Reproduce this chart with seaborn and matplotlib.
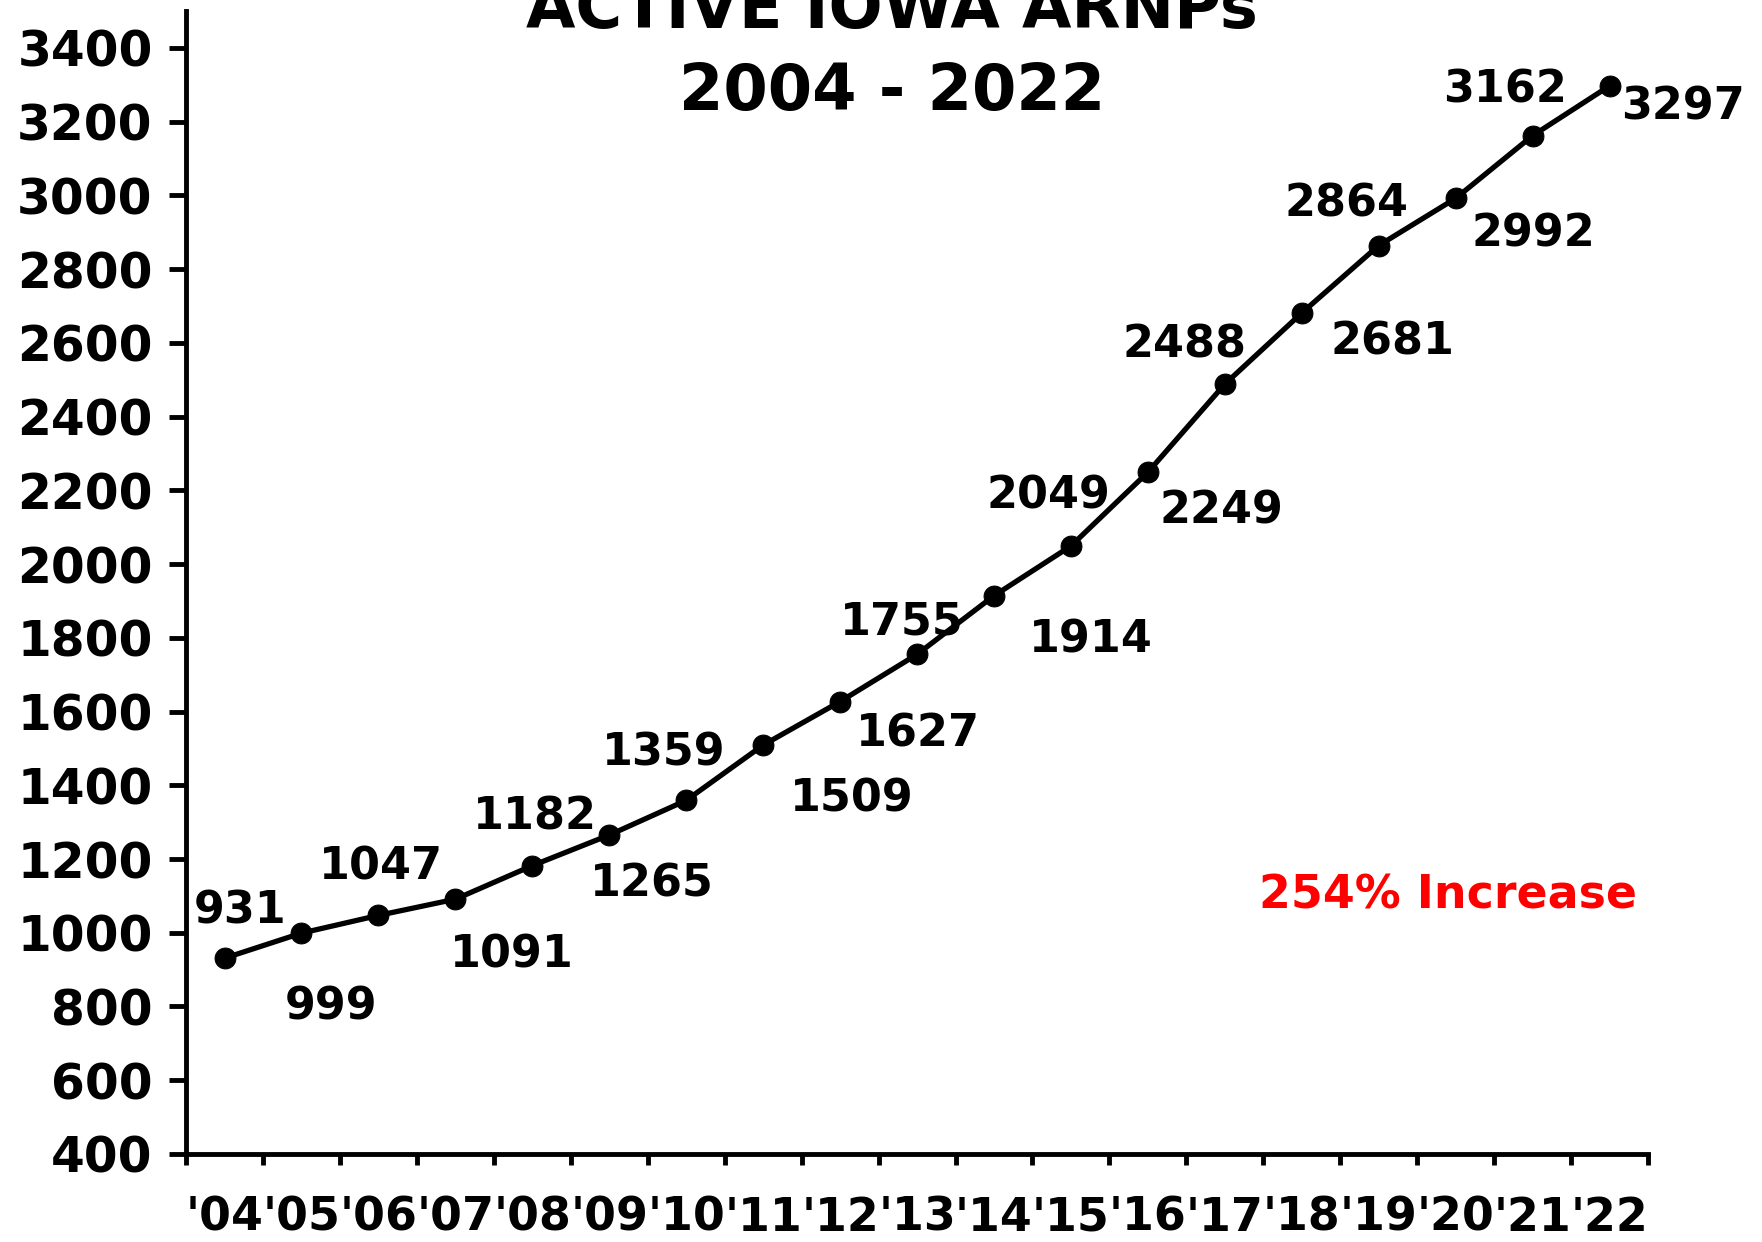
import matplotlib
matplotlib.use("Agg")
import matplotlib.pyplot as plt
import seaborn as sns
import numpy as np
import pandas as pd

years = ["'04", "'05", "'06", "'07", "'08", "'09", "'10", "'11", "'12", "'13",
         "'14", "'15", "'16", "'17", "'18", "'19", "'20", "'21", "'22"]
arnps = [931, 999, 1047, 1091, 1182, 1265, 1359, 1509, 1627, 1755,
         1914, 2049, 2249, 2488, 2681, 2864, 2992, 3162, 3297]
y_ticks = [400, 600, 800, 1000, 1200, 1400, 1600, 1800, 2000,
           2200, 2400, 2600, 2800, 3000, 3200, 3400]

# label offsets in points (dx, dy) relative to each point
label_offsets = [(11, 34), (21, -53), (2, 35), (41, -40), (2, 35), (31, -35),
                 (-16, 34), (64, -39), (56, -23), (-11, 23), (70, -32),
                 (-16, 36), (53, -28), (-29, 28), (65, -21), (-23, 30),
                 (56, -26), (-20, 33), (53, -15)]


def plot_arnps():
    sns.set_style("white")
    plt.rcParams["font.family"] = ["DejaVu Sans"]
    plt.rcParams["font.weight"] = "bold"
    plt.rcParams["text.color"] = "black"
    plt.rcParams["xtick.color"] = "black"
    plt.rcParams["ytick.color"] = "black"

    df = pd.DataFrame({"pos": np.arange(len(years)), "count": arnps})

    fig = plt.figure(figsize=(17.62, 12.42), dpi=100)
    ax = fig.add_axes([0.1056, 0.0709, 0.8297, 0.9202])

    sns.lineplot(
        data=df, x="pos", y="count", ax=ax,
        color="black", linewidth=3.8,
        marker="o", markersize=15, markeredgecolor="black"
    )

    for x, y, (dx, dy) in zip(df["pos"], df["count"], label_offsets):
        ax.annotate(
            str(y), (x, y), xytext=(dx, dy), textcoords="offset points",
            ha="center", va="center", fontsize=32, fontweight="bold",
            color="black"
        )

    ax.text(15.9, 1100, "254% Increase", color="#ff0000",
            fontsize=33, fontweight="bold", ha="center", va="center")

    ax.set_xlim(-0.5, len(years) - 0.5)
    ax.set_ylim(400, 3500)

    ax.set_yticks(y_ticks)
    ax.set_yticklabels([str(t) for t in y_ticks], fontsize=35, fontweight="bold")
    ax.set_xticks(df["pos"])
    ax.set_xticklabels(years, fontsize=33, fontweight="bold")
    ax.set_xticks(np.arange(len(years) + 1) - 0.5, minor=True)

    ax.tick_params(axis="y", which="major", direction="out", length=12,
                   width=3.5, pad=12, left=True, color="black",
                   labelcolor="black")
    ax.tick_params(axis="x", which="major", length=0, pad=30,
                   labelcolor="black")
    ax.tick_params(axis="x", which="minor", direction="out", length=8,
                   width=3.5, bottom=True, color="black")

    for side in ["top", "right"]:
        ax.spines[side].set_visible(False)
    for side in ["left", "bottom"]:
        ax.spines[side].set_linewidth(3.5)
        ax.spines[side].set_color("black")

    ax.set_xlabel("")
    ax.set_ylabel("")

    fig.text(0.506, 0.9775, "ACTIVE IOWA ARNPs", ha="center", va="baseline",
             fontsize=46, fontweight="bold", color="black")
    fig.text(0.506, 0.9114, "2004 - 2022", ha="center", va="baseline",
             fontsize=46, fontweight="bold", color="black")

    fig.savefig("out.png", dpi=100)
    plt.close(fig)


if __name__ == "__main__":
    plot_arnps()
